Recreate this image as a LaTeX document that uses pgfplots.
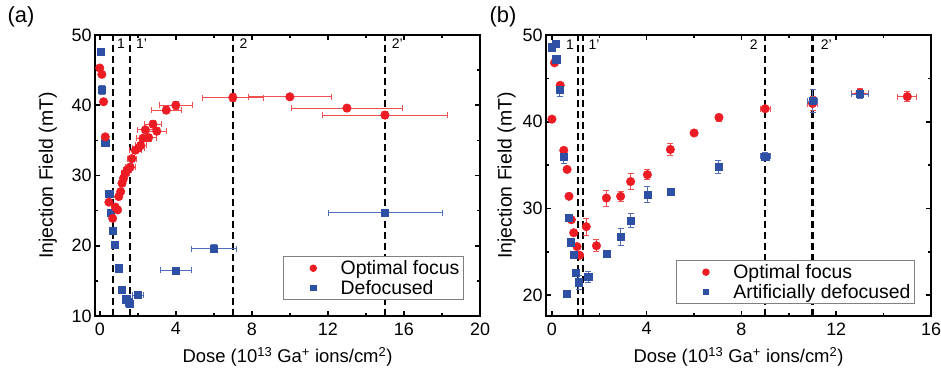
\documentclass[border=0pt]{standalone}
\usepackage{pgfplots}
\pgfplotsset{compat=1.18}
\usepackage{pgfplotstable}
\usepackage{fontspec}
\setmainfont{Liberation Sans}
\definecolor{myred}{RGB}{237,28,36}
\definecolor{myblue}{RGB}{46,80,164}
\definecolor{myredlt}{RGB}{240,80,80}
\definecolor{mybluelt}{RGB}{80,110,185}

\pgfplotstableread{
x y ex ey
0 45.3 0 0
0.11 44.4 0 0
0.2 40.5 0 0
0.29 35.5 0 0
0.48 26.2 0 0.3
0.68 23.9 0.1 0.3
0.82 25.5 0.1 0.3
0.94 25.1 0.1 0.3
1.0 27.0 0.15 0.4
1.1 27.7 0.15 0.4
1.17 28.9 0.15 0.4
1.25 29.6 0.15 0.4
1.34 30.3 0.2 0.4
1.45 30.8 0.2 0.4
1.6 31.2 0.25 0.4
1.69 32.4 0.25 0.4
1.87 33.6 0.3 0.4
2.04 33.9 0.3 0.4
2.15 34.3 0.3 0.4
2.27 35.3 0.35 0.4
2.4 36.5 0.4 0.4
2.57 35.4 0.4 0.5
2.8 37.3 0.45 0.5
3.0 36.3 0.5 0.5
3.5 39.3 0.8 0.5
4.0 40.0 0.85 0.6
7.0 41.1 1.6 0.6
10 41.2 2.2 0.3
13 39.6 2.9 0.4
15 38.6 3.3 0.5
}\leftred

\pgfplotstableread{
x y ex ey
0.03 47.6 0 0
0.1 42.2 0 0.7
0.29 34.7 0 0
0.5 27.4 0 0
0.59 24.7 0 0
0.68 22.1 0 0
0.78 20.1 0 0
0.99 16.8 0.1 0
1.17 13.8 0.15 0
1.39 12.4 0.2 0
1.52 12.0 0.2 0
1.57 11.7 0.2 0
2.0 13.0 0.3 0
4.0 16.5 0.8 0.3
6.0 19.6 1.2 0.6
15 24.7 3 0
}\leftblue

\pgfplotstableread{
x y ex ey
0 40.3 0 0
0.11 46.8 0 0
0.35 44.2 0 0
0.5 36.7 0 0
0.64 34.5 0 0
0.72 31.4 0 0
0.82 28.7 0 0
0.92 27.2 0 0
1.06 25.6 0 0
1.17 24.6 0 0.3
1.45 27.9 0 1.0
1.88 25.7 0 0.7
2.3 31.2 0 0.9
2.9 31.4 0 0.6
3.32 33.1 0 0.9
4.03 33.9 0 0.6
5.0 36.8 0 0.7
6.0 38.7 0 0.3
7.05 40.5 0 0.4
9.0 41.5 0.2 0.3
11 42.1 0.2 0.8
13 43.3 0.35 0.6
15 42.9 0.4 0.6
}\rightred

\pgfplotstableread{
x y ex ey
0 48.6 0 0
0.15 49.0 0 0
0.18 47.2 0 0
0.33 43.7 0 0.8
0.5 36.0 0 0.8
0.61 20.2 0 0
0.71 28.9 0 0
0.79 26.1 0 0
0.92 24.7 0 0
1.0 22.6 0 0
1.13 21.5 0 0.8
1.53 22.1 0 0.6
2.3 24.8 0 0.4
2.9 26.7 0 1.0
3.32 28.6 0 0.8
4.03 31.6 0 0.9
5.0 31.9 0 0.4
7.03 34.8 0 0.7
9 36.0 0.2 0.5
11 42.4 0.2 1.3
13 43.2 0.35 0.5
}\rightblue

\tikzset{linelab/.style={font=\fontsize{14}{16}\selectfont, anchor=north west, inner sep=1bp}}

\pgfplotsset{
  common/.style={
    scale only axis, width=385bp, height=281bp,
    axis line style={line width=2pt},
    tick style={line width=1.6pt, black},
    major tick length=5bp, minor tick length=3bp,
    tick align=inside,
    xtick pos=both, ytick pos=both,
    /pgf/number format/assume math mode=true,
    tick label style={font=\fontsize{18}{21}\selectfont},
    xticklabel style={yshift=-3bp},
    xlabel style={font=\fontsize{18.5}{22}\selectfont},
    ylabel style={font=\fontsize{19.5}{22}\selectfont},
    xlabel={Dose (10\textsuperscript{13} Ga\textsuperscript{+} ions/cm\textsuperscript{2})},
    ylabel={Injection Field (mT)},
    legend style={font=\fontsize{19.5}{23}\selectfont, draw=gray, line width=0.8pt, inner xsep=2bp, inner ysep=2bp, row sep=0bp},
    legend cell align=left,
    clip=false,
  },
  vline/.style={black, line width=2.2pt, dash pattern=on 7bp off 4bp, forget plot},
  mylegimg/.style={legend image code/.code={\path (0bp,0bp) (52bp,0bp); \draw[##1] plot coordinates {(27bp,0bp)};}},
  redpts/.style={only marks, mark=*, mark size=4.3bp, color=myred, mylegimg,
    legend image post style={mark size=3.3bp},
    error bars/.cd, x dir=both, x explicit, y dir=both, y explicit,
    error bar style={myredlt, line width=0.7pt}, error mark options={myredlt, line width=0.7pt, mark size=3bp, rotate=90}},
  bluepts/.style={only marks, mark=square*, mark size=3.6bp, color=myblue, mylegimg,
    legend image post style={mark size=2.8bp},
    error bars/.cd, x dir=both, x explicit, y dir=both, y explicit,
    error bar style={mybluelt, line width=0.7pt}, error mark options={mybluelt, line width=0.7pt, mark size=3bp, rotate=90}},
}

\begin{document}
\begin{tikzpicture}
\useasboundingbox (0,0) rectangle (941bp,376bp);
\node[font=\fontsize{22}{26}\selectfont] at (21bp,359bp) {(a)};
\node[font=\fontsize{22}{26}\selectfont] at (503bp,359bp) {(b)};

\begin{axis}[common, at={(95bp,60bp)}, anchor=south west,
  xmin=-0.25, xmax=20, ymin=10, ymax=50,
  xtick={0,4,8,12,16,20}, minor xtick={2,6,10,14,18},
  ytick={10,20,30,40,50}, minor ytick={15,25,35,45},
  legend style={at={(0.958,0.057)}, anchor=south east},
  reverse legend,
  ylabel style={at={(axis description cs:-0.09,0.5)}},
  xlabel style={at={(axis description cs:0.5,-0.1)}},
]
\addplot[vline] coordinates {(0.7,10) (0.7,50)};
\addplot[vline] coordinates {(1.6,10) (1.6,50)};
\addplot[vline] coordinates {(7,10) (7,50)};
\addplot[vline] coordinates {(15,10) (15,50)};
\node[linelab] at (axis cs:0.85,49.6) {1};
\node[linelab] at (axis cs:1.85,49.6) {1’};
\node[linelab] at (axis cs:7.3,49.6) {2};
\node[linelab] at (axis cs:15.3,49.6) {2’};
\addplot[bluepts] table[x=x, y=y, x error=ex, y error=ey] {\leftblue};
\addlegendentry{Defocused}
\addplot[redpts] table[x=x, y=y, x error=ex, y error=ey] {\leftred};
\addlegendentry{Optimal focus}
\end{axis}

\begin{axis}[common, at={(546bp,60bp)}, anchor=south west,
  xmin=-0.25, xmax=16, ymin=17.6, ymax=50,
  xtick={0,4,8,12,16}, minor xtick={2,6,10,14},
  ytick={20,30,40,50}, minor ytick={25,35,45},
  legend style={at={(0.958,0.043)}, anchor=south east},
  ylabel style={at={(axis description cs:-0.07,0.5)}},
  xlabel style={at={(axis description cs:0.5,-0.1)}},
]
\addplot[vline] coordinates {(1.1,17.6) (1.1,50)};
\addplot[vline] coordinates {(1.3,17.6) (1.3,50)};
\addplot[vline] coordinates {(9,17.6) (9,50)};
\addplot[vline] coordinates {(11,17.6) (11,50)};
\node[linelab] at (axis cs:0.55,49.6) {1};
\node[linelab] at (axis cs:1.5,49.6) {1’};
\node[linelab] at (axis cs:8.3,49.6) {2};
\node[linelab] at (axis cs:11.3,49.6) {2’};
\addplot[redpts] table[x=x, y=y, x error=ex, y error=ey] {\rightred};
\addlegendentry{Optimal focus}
\addplot[bluepts] table[x=x, y=y, x error=ex, y error=ey] {\rightblue};
\addlegendentry{Artificially defocused}
\end{axis}
\end{tikzpicture}
\end{document}
